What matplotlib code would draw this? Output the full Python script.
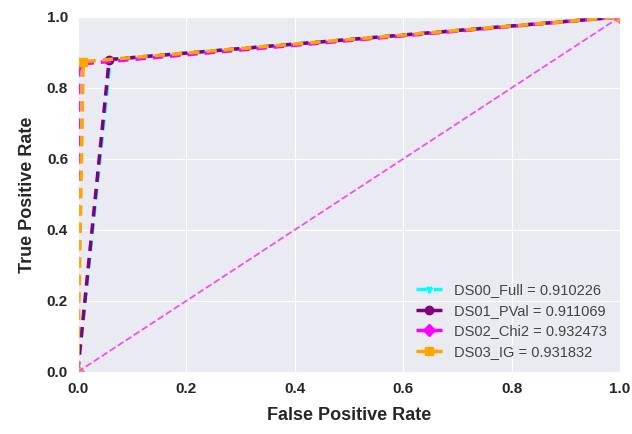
import matplotlib
matplotlib.use("Agg")
import matplotlib.pyplot as plt
import seaborn as sns

sns.set_style("darkgrid")
plt.rcParams['font.family'] = ['Liberation Sans', 'DejaVu Sans']

# ROC points (fpr, tpr) for each feature-selected dataset
names = ["DS00_Full", "DS01_PVal", "DS02_Chi2", "DS03_IG"]
aucs = [0.910226, 0.911069, 0.932473, 0.931832]
fprs = [[0.0, 0.060, 1.0],
        [0.0, 0.058, 1.0],
        [0.0, 0.002, 1.0],
        [0.0, 0.010, 1.0]]
tprs = [[0.0, 0.880, 1.0],
        [0.0, 0.880, 1.0],
        [0.0, 0.867, 1.0],
        [0.0, 0.874, 1.0]]
colors = ["cyan", "purple", "magenta", "orange"]
markers = ["1", "o", "D", "s"]

fig = plt.figure(figsize=(6.32, 4.34), dpi=100)
ax = fig.add_axes([0.123, 0.143, 0.858, 0.818])

for name, auc, fpr, tpr, c, m in zip(names, aucs, fprs, tprs, colors, markers):
    ax.plot(fpr, tpr, color=c, linestyle="--", linewidth=2.5, marker=m,
            markersize=6, markeredgewidth=2.5 if m == "1" else 1,
            dashes=(3, 2), label="%s = %.6f" % (name, auc))

ax.plot([0, 1], [0, 1], color="#f050f0", linestyle="--", linewidth=1.3)

ax.set_xlim(0, 1)
ax.set_ylim(0, 1)
ax.set_xlabel("False Positive Rate", fontsize=13, fontweight="bold",
              labelpad=8)
ax.set_ylabel("True Positive Rate", fontsize=13, fontweight="bold",
              labelpad=8)
ax.tick_params(labelsize=11)
for lbl in ax.get_xticklabels() + ax.get_yticklabels():
    lbl.set_fontweight("bold")

leg = ax.legend(loc="lower right", frameon=False, fontsize=10.5,
                handlelength=1.8, labelspacing=0.45)
for t in leg.get_texts():
    t.set_color("#444444")

fig.savefig("out.png", dpi=100)
